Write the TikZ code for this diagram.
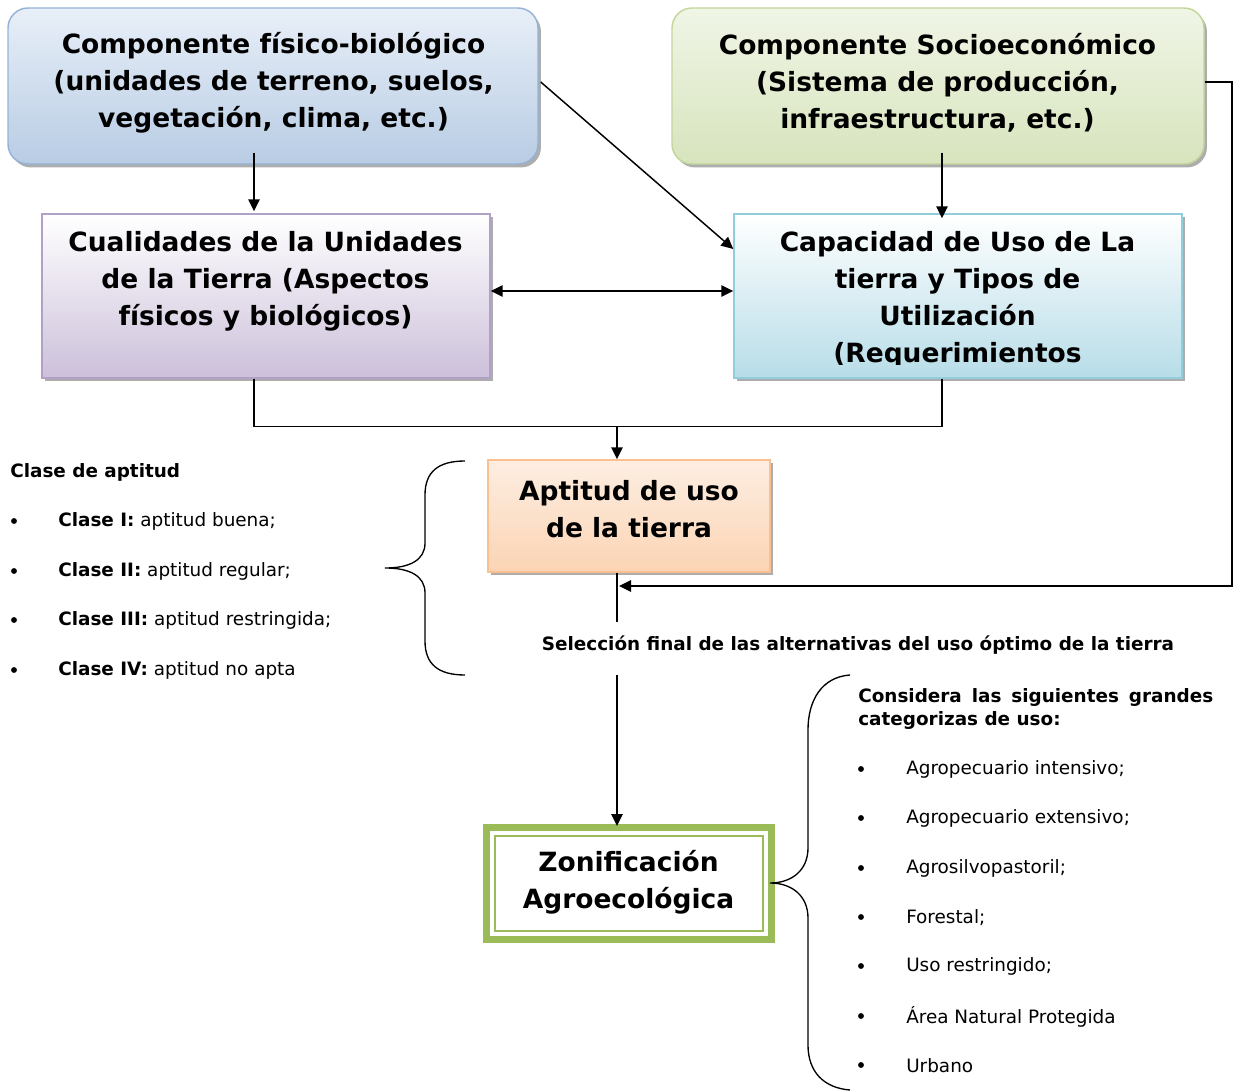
\documentclass[tikz,border=0pt]{standalone}
\usepackage{fontspec}
\setmainfont{DejaVu Sans}
\usetikzlibrary{arrows.meta,shadows,calc}
\definecolor{aTop}{HTML}{E8EFF8}
\definecolor{aBot}{HTML}{B8CCE4}
\definecolor{aBrd}{HTML}{95B3D7}
\definecolor{bTop}{HTML}{F0F5E6}
\definecolor{bBot}{HTML}{D7E4BD}
\definecolor{bBrd}{HTML}{C3D69B}
\definecolor{cTop}{HTML}{FFFFFF}
\definecolor{cBot}{HTML}{CCC0DA}
\definecolor{cBrd}{HTML}{B2A1C7}
\definecolor{dTop}{HTML}{FFFFFF}
\definecolor{dBot}{HTML}{B7DDE8}
\definecolor{dBrd}{HTML}{92CDDC}
\definecolor{eTop}{HTML}{FDEEE2}
\definecolor{eBot}{HTML}{FBD4B4}
\definecolor{eBrd}{HTML}{FAC090}
\definecolor{zGreen}{HTML}{9BBB59}
\begin{document}
\begin{tikzpicture}[x=0.75pt,y=-0.75pt,
  box/.style={inner sep=0pt, line width=1.1pt,
    drop shadow={shadow xshift=2.2pt, shadow yshift=-2.6pt, fill=black, opacity=0.32}},
  ttl/.style={align=center, inner sep=0pt, font=\fontsize{19.85pt}{27.75pt}\selectfont\bfseries},
  small/.style={inner sep=0pt, anchor=west, font=\fontsize{13.8pt}{17.25pt}\selectfont},
  dot/.style={circle, fill=black, inner sep=0pt, minimum size=4.4pt},
  arr/.style={line width=1.4pt, -{Triangle[length=9pt,width=8.5pt]}},
  darr/.style={line width=1.4pt, {Triangle[length=9pt,width=8.5pt]}-{Triangle[length=9pt,width=8.5pt]}},
  ln/.style={line width=1pt},
  brace/.style={line width=1pt}
]
\useasboundingbox (0,0) rectangle (1233,1091);

% boxes
\node[box, draw=aBrd, top color=aTop, bottom color=aBot, rounded corners=15pt,
  minimum width=397.5pt, minimum height=117pt] (A) at (273,86) {};
\node[box, draw=bBrd, top color=bTop, bottom color=bBot, rounded corners=15pt,
  minimum width=399pt, minimum height=117pt] (B) at (938,86) {};
\node[box, draw=cBrd, top color=cTop, bottom color=cBot,
  minimum width=336pt, minimum height=123pt] (C) at (266,296) {};
\node[box, draw=dBrd, top color=dTop, bottom color=dBot,
  minimum width=336pt, minimum height=123pt] (D) at (958,296) {};
\node[box, draw=eBrd, top color=eTop, bottom color=eBot,
  minimum width=211.5pt, minimum height=84pt] (E) at (629,516) {};
\node[draw=zGreen, line width=5.25pt, fill=white, inner sep=0pt,
  minimum width=213.75pt, minimum height=84pt] (F) at (629,883.5) {};
\draw[zGreen, line width=1.6pt] ($(F.north west)+(12,12)$) rectangle ($(F.south east)+(-12,-12)$);

% titles
\node[ttl] (tA) at (273.5,82.5) {Componente físico-biológico\\(unidades de terreno, suelos,\\vegetación, clima, etc.)};
\node[ttl] (tB) at (937.5,82.5) {Componente Socioeconómico\\(Sistema de producción,\\infraestructura, etc.)};
\node[ttl] (tC) at (265.5,281.5) {Cualidades de la Unidades\\de la Tierra (Aspectos\\físicos y biológicos)};
\begin{scope}
  \clip (735,215) rectangle (1181,365);
  \node[ttl] (tD) at (957.5,300) {Capacidad de Uso de La\\tierra y Tipos de\\Utilización\\(Requerimientos};
\end{scope}
\node[ttl] (tE) at (629,509.5) {Aptitud de uso\\de la tierra};
\node[ttl] (tF) at (628.5,882.5) {Zonificación\\Agroecológica};

% connectors
\draw[arr] ($(A.south)+(-19,-12)$) -- ($(C.north)+(-12,-2)$);
\draw[arr] ($(B.south)+(4,-12)$) -- ($(D.north)+(-16,5)$);
\draw[arr, line width=1.1pt] ($(A.east)+(2,-4)$) -- ($(D.west)+(0,-47)$);
\draw[darr] ($(C.east)+(0,-5)$) -- ($(D.west)+(0,-5)$);
\draw[ln] ($(C.south)+(-12,0)$) |- ($(D.south)+(-16,48)$) -- ($(D.south)+(-16,0)$);
\coordinate (j1) at (617,426);
\draw[arr] (j1) -- (j1 |- E.north);
\coordinate (j2) at (617,622);
\draw[ln, line width=1.2pt] (E.south -| j2) -- (j2);
\coordinate (r1) at (1232,82);
\coordinate (j3) at (619,586);
\draw[arr, line width=1.2pt] ($(B.east)+(0,-4)$) -- (r1) |- (j3);
\node[inner sep=0pt, font=\fontsize{13.8pt}{17.25pt}\selectfont\bfseries] (sel) at (858,645.5) {Selección final de las alternativas del uso óptimo de la tierra};
\coordinate (j4) at (617,675);
\draw[arr] (j4) -- ($(j4 |- F.north)+(0,2)$);

% left brace
\coordinate (lb1) at (465,461);
\coordinate (lbt) at (385,568);
\coordinate (lb2) at (465,675);
\draw[brace] (lb1) .. controls (438,461) and (425,472) .. (425,495)
  -- (425,543) .. controls (425,560) and (410,568) .. (lbt)
  .. controls (410,568) and (425,576) .. (425,593)
  -- (425,641) .. controls (425,664) and (438,675) .. (lb2);

% right brace
\coordinate (rb1) at (850,675);
\coordinate (rbt) at (770,883);
\coordinate (rb2) at (850,1090);
\draw[brace] (rb1) .. controls (822,677) and (808,700) .. (808,730)
  -- (808,848) .. controls (808,870) and (792,883) .. (rbt)
  .. controls (792,883) and (808,896) .. (808,918)
  -- (808,1045) .. controls (808,1072) and (824,1088) .. (rb2);

% left list
\node[small, font=\fontsize{13.8pt}{17.25pt}\selectfont\bfseries] (lh) at (10,472.5) {Clase de aptitud};
\node[dot] (lbu1) at (14,521) {};
\node[dot] (lbu2) at (14,571) {};
\node[dot] (lbu3) at (14,620) {};
\node[dot] (lbu4) at (14,670) {};
\node[small] (lt1) at (58,521.5) {\textbf{Clase I:} aptitud buena;};
\node[small] (lt2) at (58,571.5) {\textbf{Clase II:} aptitud regular;};
\node[small] (lt3) at (58,620.5) {\textbf{Clase III:} aptitud restringida;};
\node[small] (lt4) at (58,670.5) {\textbf{Clase IV:} aptitud no apta};

% right list
\node[small, align=left, font=\fontsize{13.8pt}{17.25pt}\selectfont\bfseries] (rh) at (858,709)
  {\makebox[266.25pt][s]{Considera las siguientes grandes}\\categorizas de uso:};
\node[dot] (rbu1) at (861,769) {};
\node[dot] (rbu2) at (861,818) {};
\node[dot] (rbu3) at (861,868) {};
\node[dot] (rbu4) at (861,917) {};
\node[dot] (rbu5) at (861,966) {};
\node[dot] (rbu6) at (861,1016) {};
\node[dot] (rbu7) at (861,1065) {};
\node[small] (rt1) at (906,769.5) {Agropecuario intensivo;};
\node[small] (rt2) at (906,818.5) {Agropecuario extensivo;};
\node[small] (rt3) at (906,868.5) {Agrosilvopastoril;};
\node[small] (rt4) at (906,917.5) {Forestal;};
\node[small] (rt5) at (906,966.5) {Uso restringido;};
\node[small] (rt6) at (906,1016.5) {Área Natural Protegida};
\node[small] (rt7) at (906,1065.5) {Urbano};
\end{tikzpicture}
\end{document}
